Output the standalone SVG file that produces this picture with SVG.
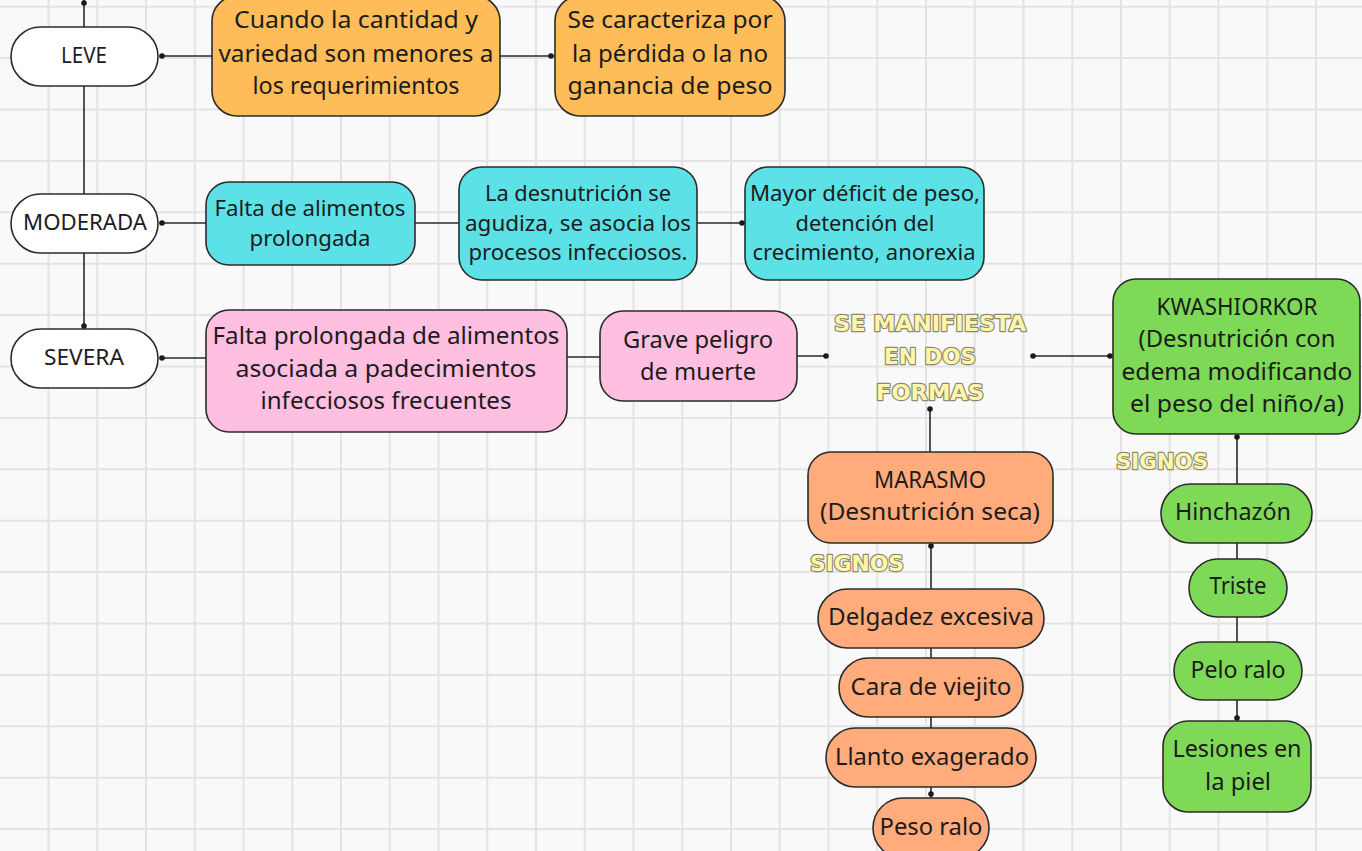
<svg xmlns="http://www.w3.org/2000/svg" width="1362" height="851" viewBox="0 0 1362 851">
<defs>
<style>
.bg{fill:#f9f9f9}
.grid{stroke:#e3e3e3;stroke-width:2;fill:none}
.box{stroke:#2b2b2b;stroke-width:1.6}
.white{fill:#ffffff}
.orange{fill:#ffbd59}
.cyan{fill:#5ce1e6}
.pink{fill:#ffbfe0}
.green{fill:#7ed957}
.salmon{fill:#ffab7c}
.conn{stroke:#2b2b2b;stroke-width:1.6;fill:none}
.dot{fill:#1a1a1a}
.t{font-family:"Noto Sans","Open Sans",sans-serif;font-size:23px;fill:#1c1c1c;text-anchor:middle}
.ts{font-size:21px}
.deco{font-family:"DejaVu Sans","Liberation Sans",sans-serif;font-weight:bold;font-size:22px;fill:#fdf6ab;stroke:#8e8a72;stroke-width:2.4;paint-order:stroke;stroke-linejoin:round}
</style>
</defs>
<rect class="bg" x="0" y="0" width="1362" height="851"/>
<path class="grid" d="M48.5 0V851M97.25 0V851M146 0V851M194.75 0V851M243.5 0V851M292.25 0V851M341 0V851M389.75 0V851M438.5 0V851M487.25 0V851M536 0V851M584.75 0V851M633.5 0V851M682.25 0V851M731 0V851M779.75 0V851M828.5 0V851M877.25 0V851M926 0V851M974.75 0V851M1023.5 0V851M1072.25 0V851M1121 0V851M1169.75 0V851M1218.5 0V851M1267.25 0V851M1316 0V851M0 6.7H1362M0 58.1H1362M0 109.5H1362M0 160.9H1362M0 212.3H1362M0 263.7H1362M0 315.1H1362M0 366.5H1362M0 417.9H1362M0 469.3H1362M0 520.7H1362M0 572.1H1362M0 623.5H1362M0 674.9H1362M0 726.3H1362M0 777.7H1362M0 829.1H1362"/>

<g id="connectors">
<path class="conn" d="M84 0V27M84 86V194M84 253V329"/>
<path class="conn" d="M162 56H212M500 56H555"/>
<path class="conn" d="M162 223H206M415 223H459M697 223H745"/>
<path class="conn" d="M162 358H206M567 357H600M797 356H826"/>
<path class="conn" d="M1033 356H1113M930 409V452"/>
<path class="conn" d="M1237 437V484M1237 543V559M1237 617V642M1237 700V721"/>
<path class="conn" d="M931 546V589M931 648V658M931 717V728M931 787V798"/>
<circle class="dot" cx="84" cy="3" r="2.8"/>
<circle class="dot" cx="84" cy="326" r="2.8"/>
<circle class="dot" cx="162" cy="56" r="2.8"/>
<circle class="dot" cx="551" cy="56" r="2.8"/>
<circle class="dot" cx="162" cy="223" r="2.8"/>
<circle class="dot" cx="742" cy="223" r="2.8"/>
<circle class="dot" cx="162" cy="358" r="2.8"/>
<circle class="dot" cx="826" cy="356" r="2.8"/>
<circle class="dot" cx="1033" cy="356" r="2.8"/>
<circle class="dot" cx="1110" cy="356" r="2.8"/>
<circle class="dot" cx="930" cy="409" r="2.8"/>
<circle class="dot" cx="1237" cy="437" r="2.8"/>
<circle class="dot" cx="1237" cy="718" r="2.8"/>
<circle class="dot" cx="931" cy="546" r="2.8"/>
<circle class="dot" cx="931" cy="794" r="2.8"/>
</g>

<g id="leve"><rect class="box white" x="11" y="27" width="147" height="59" rx="29.5"/><text class="t ts" x="84" y="63" textLength="46" lengthAdjust="spacingAndGlyphs">LEVE</text></g>
<g id="moderada"><rect class="box white" x="11" y="194" width="147" height="59" rx="29.5"/><text class="t ts" x="85" y="230" textLength="124" lengthAdjust="spacingAndGlyphs">MODERADA</text></g>
<g id="severa"><rect class="box white" x="11" y="329" width="147" height="59" rx="29.5"/><text class="t ts" x="84" y="365" textLength="80" lengthAdjust="spacingAndGlyphs">SEVERA</text></g>

<g id="leve-causa"><rect class="box orange" x="212" y="-4" width="288" height="120" rx="25"/>
<text class="t" x="356" y="28" textLength="244" lengthAdjust="spacingAndGlyphs">Cuando la cantidad y</text>
<text class="t" x="356" y="62" textLength="275" lengthAdjust="spacingAndGlyphs">variedad son menores a</text>
<text class="t" x="356" y="94" textLength="207" lengthAdjust="spacingAndGlyphs">los requerimientos</text></g>
<g id="leve-caract"><rect class="box orange" x="555" y="-4" width="230" height="120" rx="25"/>
<text class="t" x="670" y="28" textLength="205" lengthAdjust="spacingAndGlyphs">Se caracteriza por</text>
<text class="t" x="670" y="62" textLength="196" lengthAdjust="spacingAndGlyphs">la pérdida o la no</text>
<text class="t" x="670" y="94" textLength="205" lengthAdjust="spacingAndGlyphs">ganancia de peso</text></g>

<g id="mod-causa"><rect class="box cyan" x="206" y="182" width="209" height="83" rx="23"/>
<text class="t ts" x="310" y="216" textLength="191" lengthAdjust="spacingAndGlyphs">Falta de alimentos</text>
<text class="t ts" x="310" y="246" textLength="121" lengthAdjust="spacingAndGlyphs">prolongada</text></g>
<g id="mod-agudiza"><rect class="box cyan" x="459" y="167" width="238" height="113" rx="23"/>
<text class="t ts" x="578" y="201" textLength="186" lengthAdjust="spacingAndGlyphs">La desnutrición se</text>
<text class="t ts" x="578" y="231" textLength="226" lengthAdjust="spacingAndGlyphs">agudiza, se asocia los</text>
<text class="t ts" x="578" y="260" textLength="219" lengthAdjust="spacingAndGlyphs">procesos infecciosos.</text></g>
<g id="mod-deficit"><rect class="box cyan" x="745" y="167" width="239" height="113" rx="23"/>
<text class="t ts" x="865" y="201" textLength="230" lengthAdjust="spacingAndGlyphs">Mayor déficit de peso,</text>
<text class="t ts" x="865" y="231" textLength="139" lengthAdjust="spacingAndGlyphs">detención del</text>
<text class="t ts" x="864" y="260" textLength="223" lengthAdjust="spacingAndGlyphs">crecimiento, anorexia</text></g>

<g id="sev-causa"><rect class="box pink" x="206" y="310" width="361" height="122" rx="23"/>
<text class="t" x="386" y="344" textLength="347" lengthAdjust="spacingAndGlyphs">Falta prolongada de alimentos</text>
<text class="t" x="386" y="377" textLength="301" lengthAdjust="spacingAndGlyphs">asociada a padecimientos</text>
<text class="t" x="386" y="409" textLength="251" lengthAdjust="spacingAndGlyphs">infecciosos frecuentes</text></g>
<g id="sev-peligro"><rect class="box pink" x="600" y="311" width="197" height="90" rx="23"/>
<text class="t" x="698" y="348" textLength="150" lengthAdjust="spacingAndGlyphs">Grave peligro</text>
<text class="t" x="698" y="380" textLength="116" lengthAdjust="spacingAndGlyphs">de muerte</text></g>

<g id="manifiesta">
<text class="deco" x="930" y="331" text-anchor="middle" textLength="192" lengthAdjust="spacingAndGlyphs">SE MANIFIESTA</text>
<text class="deco" x="930" y="364" text-anchor="middle" textLength="92" lengthAdjust="spacingAndGlyphs">EN DOS</text>
<text class="deco" x="930" y="400" text-anchor="middle" textLength="108" lengthAdjust="spacingAndGlyphs">FORMAS</text>
</g>

<g id="kwashiorkor"><rect class="box green" x="1113" y="279" width="247" height="155" rx="23"/>
<text class="t" x="1237" y="315" textLength="161" lengthAdjust="spacingAndGlyphs">KWASHIORKOR</text>
<text class="t" x="1237" y="347" textLength="197" lengthAdjust="spacingAndGlyphs">(Desnutrición con</text>
<text class="t" x="1237" y="380" textLength="231" lengthAdjust="spacingAndGlyphs">edema modificando</text>
<text class="t" x="1237" y="412" textLength="214" lengthAdjust="spacingAndGlyphs">el peso del niño/a)</text></g>
<g id="signos-k"><text class="deco" x="1162" y="469" text-anchor="middle" textLength="92" lengthAdjust="spacingAndGlyphs">SIGNOS</text></g>
<g id="hinchazon"><rect class="box green" x="1161" y="484" width="151" height="59" rx="29.5"/><text class="t" x="1233" y="520" textLength="116" lengthAdjust="spacingAndGlyphs">Hinchazón</text></g>
<g id="triste"><rect class="box green" x="1189" y="559" width="98" height="58" rx="29"/><text class="t" x="1238" y="594" textLength="57" lengthAdjust="spacingAndGlyphs">Triste</text></g>
<g id="pelo-ralo-k"><rect class="box green" x="1174" y="642" width="128" height="58" rx="29"/><text class="t" x="1238" y="678" textLength="95" lengthAdjust="spacingAndGlyphs">Pelo ralo</text></g>
<g id="lesiones"><rect class="box green" x="1163" y="721" width="148" height="91" rx="25"/>
<text class="t" x="1237" y="757" textLength="129" lengthAdjust="spacingAndGlyphs">Lesiones en</text>
<text class="t" x="1238" y="790" textLength="66" lengthAdjust="spacingAndGlyphs">la piel</text></g>

<g id="marasmo"><rect class="box salmon" x="808" y="452" width="245" height="91" rx="23"/>
<text class="t" x="930" y="488" textLength="112" lengthAdjust="spacingAndGlyphs">MARASMO</text>
<text class="t" x="930" y="520" textLength="220" lengthAdjust="spacingAndGlyphs">(Desnutrición seca)</text></g>
<g id="signos-m"><text class="deco" x="857" y="571" text-anchor="middle" textLength="94" lengthAdjust="spacingAndGlyphs">SIGNOS</text></g>
<g id="delgadez"><rect class="box salmon" x="818" y="589" width="226" height="59" rx="29.5"/><text class="t" x="931" y="625" textLength="206" lengthAdjust="spacingAndGlyphs">Delgadez excesiva</text></g>
<g id="cara"><rect class="box salmon" x="839" y="658" width="184" height="59" rx="29.5"/><text class="t" x="931" y="695" textLength="161" lengthAdjust="spacingAndGlyphs">Cara de viejito</text></g>
<g id="llanto"><rect class="box salmon" x="826" y="728" width="210" height="59" rx="29.5"/><text class="t" x="932" y="765" textLength="194" lengthAdjust="spacingAndGlyphs">Llanto exagerado</text></g>
<g id="peso-ralo-m"><rect class="box salmon" x="873" y="798" width="116" height="60" rx="30"/><text class="t" x="931" y="835" textLength="103" lengthAdjust="spacingAndGlyphs">Peso ralo</text></g>
</svg>
